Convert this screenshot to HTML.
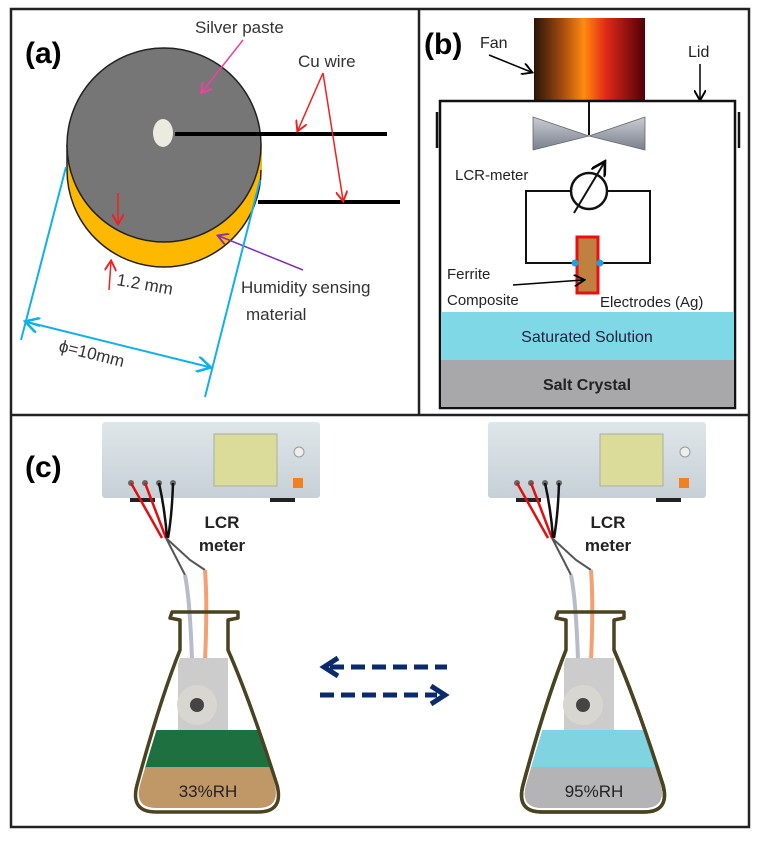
<!DOCTYPE html>
<html><head><meta charset="utf-8"><style>
html,body{margin:0;padding:0;background:#fff}
svg{display:block}
text{font-family:"Liberation Sans","DejaVu Sans",sans-serif}
</style></head><body>
<svg width="758" height="841" viewBox="0 0 758 841" xmlns="http://www.w3.org/2000/svg">
<defs>
<linearGradient id="fan" x1="0" x2="1" y1="0" y2="0">
<stop offset="0" stop-color="#2a1408"/><stop offset="0.25" stop-color="#a04a10"/>
<stop offset="0.45" stop-color="#ff8a10"/><stop offset="0.65" stop-color="#e02818"/>
<stop offset="1" stop-color="#500008"/></linearGradient>
<linearGradient id="blade" x1="0" x2="0" y1="0" y2="1">
<stop offset="0" stop-color="#c8ccd4"/><stop offset="1" stop-color="#7a808c"/></linearGradient>
<linearGradient id="dev" x1="0" x2="0" y1="0" y2="1">
<stop offset="0" stop-color="#dfe6ea"/><stop offset="1" stop-color="#c6d0d6"/></linearGradient>
<clipPath id="flaskIn"><path d="M182,616 L182,652 Q165,700 140,785 Q134,808 156,808 L258,808 Q280,808 275,785 Q250,700 226,652 L226,616 Z"/></clipPath>
<marker id="ra" markerWidth="8" markerHeight="8" refX="6" refY="4" orient="auto"><path d="M0,0 L7,4 L0,8" fill="none" stroke="#f02020" stroke-width="1.3"/></marker>
<marker id="pa" markerWidth="8" markerHeight="8" refX="6" refY="4" orient="auto"><path d="M0,0 L7,4 L0,8" fill="none" stroke="#f040a0" stroke-width="1.3"/></marker>
<marker id="va" markerWidth="8" markerHeight="8" refX="6" refY="4" orient="auto"><path d="M0,0 L7,4 L0,8" fill="none" stroke="#8030b0" stroke-width="1.3"/></marker>
<marker id="ba" markerWidth="8" markerHeight="8" refX="6" refY="4" orient="auto"><path d="M0,0 L7,4 L0,8" fill="none" stroke="#000" stroke-width="1.3"/></marker>
<marker id="ca" markerWidth="8" markerHeight="8" refX="6" refY="4" orient="auto"><path d="M0,0 L7,4 L0,8" fill="none" stroke="#10b0e8" stroke-width="1.3"/></marker>
</defs>

<!-- frames -->
<rect x="11" y="9" width="738" height="818" fill="none" stroke="#222" stroke-width="2.5"/>
<line x1="11" y1="415" x2="749" y2="415" stroke="#222" stroke-width="2.5"/>
<line x1="419" y1="9" x2="419" y2="415" stroke="#222" stroke-width="2.5"/>

<!-- Panel a -->
<text x="25" y="63" font-size="30" font-weight="bold">(a)</text>
<ellipse cx="164" cy="170" rx="97" ry="97" fill="#ffb800" stroke="#222" stroke-width="1.5"/>
<rect x="67" y="145" width="195" height="25" fill="#ffb800"/>
<line x1="67" y1="145" x2="67" y2="170" stroke="#222" stroke-width="1.5"/>
<ellipse cx="164" cy="145" rx="97" ry="97" fill="#767676" stroke="#222" stroke-width="1.5"/>
<ellipse cx="163" cy="133" rx="10" ry="14" fill="#ecebe0"/>
<line x1="175" y1="134" x2="387" y2="134" stroke="#000" stroke-width="4"/>
<line x1="258" y1="202" x2="400" y2="202" stroke="#000" stroke-width="4"/>
<text x="195" y="33" font-size="17" fill="#333">Silver paste</text>
<line x1="243" y1="40" x2="202" y2="92" stroke="#f040a0" stroke-width="1.5" marker-end="url(#pa)"/>
<text x="298" y="67" font-size="17" fill="#333">Cu wire</text>
<line x1="323" y1="73" x2="298" y2="130" stroke="#f02020" stroke-width="1.5" marker-end="url(#ra)"/>
<line x1="323" y1="73" x2="343" y2="200" stroke="#f02020" stroke-width="1.5" marker-end="url(#ra)"/>
<line x1="118" y1="193" x2="118" y2="223" stroke="#f02020" stroke-width="1.5" marker-end="url(#ra)"/>
<line x1="109" y1="290" x2="111" y2="262" stroke="#f02020" stroke-width="1.5" marker-end="url(#ra)"/>
<text x="116" y="285" font-size="17" fill="#333" transform="rotate(10 116 285)">1.2 mm</text>
<line x1="303" y1="270" x2="219" y2="236" stroke="#8030b0" stroke-width="1.5" marker-end="url(#va)"/>
<text x="241" y="293" font-size="17" fill="#333">Humidity sensing</text>
<text x="246" y="320" font-size="17" fill="#333">material</text>
<line x1="21" y1="340" x2="66" y2="167" stroke="#10b0e8" stroke-width="2"/>
<line x1="205" y1="397" x2="260" y2="180" stroke="#10b0e8" stroke-width="2"/>
<line x1="40" y1="326" x2="27" y2="322" stroke="#10b0e8" stroke-width="2" marker-end="url(#ca)"/>
<line x1="27" y1="322" x2="209" y2="367" stroke="#10b0e8" stroke-width="2" marker-end="url(#ca)"/>
<text x="58" y="351" font-size="17" fill="#333" transform="rotate(14 58 351)">ϕ=10mm</text>

<!-- Panel b -->
<text x="424" y="54" font-size="30" font-weight="bold">(b)</text>
<text x="480" y="48" font-size="16" fill="#222">Fan</text>
<line x1="489" y1="55" x2="531" y2="72" stroke="#000" stroke-width="1.5" marker-end="url(#ba)"/>
<rect x="534" y="18" width="111" height="83" fill="url(#fan)"/>
<text x="688" y="57" font-size="16" fill="#222">Lid</text>
<line x1="700" y1="64" x2="700" y2="99" stroke="#000" stroke-width="1.5" marker-end="url(#ba)"/>
<rect x="440" y="101" width="295" height="307" fill="none" stroke="#111" stroke-width="2.5"/>
<line x1="437" y1="112" x2="437" y2="148" stroke="#111" stroke-width="2.5"/>
<line x1="739" y1="112" x2="739" y2="148" stroke="#111" stroke-width="2.5"/>
<line x1="589" y1="101" x2="589" y2="135" stroke="#111" stroke-width="2"/>
<polygon points="533,117 589,136 533,150" fill="url(#blade)" stroke="#666" stroke-width="0.8"/>
<polygon points="645,117 589,136 645,150" fill="url(#blade)" stroke="#666" stroke-width="0.8"/>
<text x="455" y="180" font-size="15" fill="#222">LCR-meter</text>
<rect x="526" y="191" width="124" height="72" fill="none" stroke="#111" stroke-width="2"/>
<circle cx="589" cy="191" r="18" fill="#fff" stroke="#111" stroke-width="2.5"/>
<line x1="574" y1="213" x2="604" y2="163" stroke="#111" stroke-width="2" marker-end="url(#ba)"/>
<rect x="577" y="237" width="21" height="56" fill="#c08040" stroke="#e81010" stroke-width="3"/>
<circle cx="575" cy="263" r="3.5" fill="#20a0e0"/><circle cx="600" cy="263" r="3.5" fill="#20a0e0"/>
<text x="447" y="279" font-size="15" fill="#222">Ferrite</text>
<text x="447" y="305" font-size="15" fill="#222">Composite</text>
<line x1="513" y1="285" x2="583" y2="280" stroke="#000" stroke-width="1.5" marker-end="url(#ba)"/>
<text x="600" y="307" font-size="15" fill="#222">Electrodes (Ag)</text>
<rect x="441" y="312" width="293" height="48" fill="#7fd8e6"/>
<rect x="441" y="360" width="293" height="47" fill="#a8a8aa"/>
<text x="587" y="342" font-size="16" fill="#224" text-anchor="middle">Saturated Solution</text>
<text x="587" y="390" font-size="16" font-weight="bold" fill="#222" text-anchor="middle">Salt Crystal</text>

<!-- Panel c -->
<text x="25" y="477" font-size="30" font-weight="bold">(c)</text>
<g id="setup">
<rect x="102" y="422" width="218" height="76" rx="3" fill="url(#dev)"/>
<rect x="214" y="434" width="63" height="52" fill="#dcdc9a" stroke="#a8b0a0"/>
<circle cx="299" cy="452" r="5" fill="#eee" stroke="#999"/>
<rect x="293" y="478" width="10" height="10" fill="#f08020"/>
<rect x="130" y="498" width="25" height="4" fill="#222"/><rect x="270" y="498" width="25" height="4" fill="#222"/>
<circle cx="131" cy="483" r="3" fill="#666"/><circle cx="145" cy="483" r="3" fill="#666"/>
<circle cx="159" cy="483" r="3" fill="#666"/><circle cx="173" cy="483" r="3" fill="#666"/>
<path d="M131,483 L162,538 M145,483 L166,538" stroke="#e01010" stroke-width="2.5" fill="none"/>
<path d="M159,483 Q165,510 167,538 M173,483 Q172,515 168,538" stroke="#111" stroke-width="2.5" fill="none"/>
<path d="M166,538 L190,560 L205,570 M166,538 L185,575" stroke="#555" stroke-width="2" fill="none"/>
<path d="M185,575 Q190,600 192,660" stroke="#b8bcc8" stroke-width="4" fill="none"/>
<path d="M205,570 Q208,610 204,680" stroke="#f4a070" stroke-width="4" fill="none"/>
<text x="222" y="528" font-size="17" font-weight="bold" fill="#222" text-anchor="middle">LCR</text>
<text x="222" y="551" font-size="17" font-weight="bold" fill="#222" text-anchor="middle">meter</text>
<g clip-path="url(#flaskIn)">
<rect x="178" y="658" width="50" height="75" fill="#cccccc"/>
<rect x="130" y="730" width="160" height="38" fill="#1f7040"/>
<rect x="130" y="767" width="160" height="45" fill="#c09868"/>
</g>
<circle cx="197" cy="705" r="20" fill="#d8d6d0"/><circle cx="197" cy="705" r="7" fill="#444"/>
<path d="M172,612 L238,612 L238,618 L228,620 L228,650 Q250,700 277,785 Q284,812 258,812 L156,812 Q130,812 137,785 Q160,700 180,650 L180,620 L170,618 Z" fill="none" stroke="#4a4220" stroke-width="3.5" stroke-linejoin="round"/>
</g>
<text x="208" y="797" font-size="17" fill="#222" text-anchor="middle">33%RH</text>
<use href="#setup" transform="translate(386,0)"/>
<rect x="516" y="730" width="160" height="38" fill="#80d4e2" clip-path="url(#flaskIn)" transform="translate(386,0)" opacity="0"/>
<g transform="translate(386,0)" clip-path="url(#flaskIn)">
<rect x="130" y="730" width="160" height="38" fill="#80d4e2"/>
<rect x="130" y="767" width="160" height="45" fill="#b4b4b6"/>
</g>
<g transform="translate(386,0)">
<circle cx="197" cy="705" r="20" fill="#d8d6d0"/><circle cx="197" cy="705" r="7" fill="#444"/>
<path d="M180,650 Q160,700 137,785 Q130,812 156,812 L258,812 Q284,812 277,785 Q250,700 228,650" fill="none" stroke="#4a4220" stroke-width="3.5"/>
</g>
<text x="594" y="797" font-size="17" fill="#222" text-anchor="middle">95%RH</text>

<!-- arrows -->
<line x1="330" y1="667" x2="447" y2="667" stroke="#0a2a6a" stroke-width="5" stroke-dasharray="14,7"/>
<path d="M338,658 L324,667 L338,676" fill="none" stroke="#0a2a6a" stroke-width="5"/>
<line x1="320" y1="695" x2="437" y2="695" stroke="#0a2a6a" stroke-width="5" stroke-dasharray="14,7"/>
<path d="M431,686 L445,695 L431,704" fill="none" stroke="#0a2a6a" stroke-width="5"/>
</svg>
</body></html>
